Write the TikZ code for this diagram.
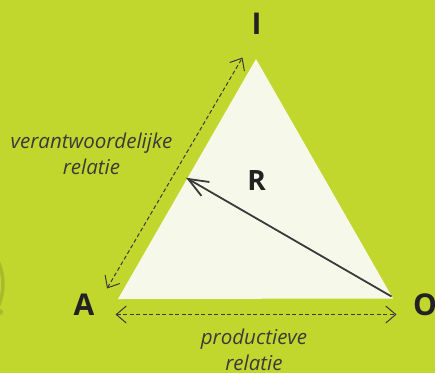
\documentclass[tikz,border=0pt]{standalone}
\usepackage{fontspec}
\setmainfont{Open Sans}
\usetikzlibrary{arrows.meta}
\definecolor{bglime}{HTML}{C2D72E}
\definecolor{trifill}{HTML}{F6F9EA}
\definecolor{inkdark}{HTML}{222222}
\definecolor{inkgray}{HTML}{3A3A3A}
\definecolor{faintgreen}{HTML}{A8BB2A}
\tikzset{
  vertexlabel/.style={font=\fontsize{30}{30}\selectfont\bfseries, text=inkdark, inner sep=0pt},
  relabel/.style={font=\fontsize{20.5}{24}\selectfont\itshape, text=inkgray, inner sep=0pt, anchor=base},
  relarrow/.style={draw=inkgray, line width=1pt, dash pattern=on 4pt off 2.5pt,
    {Straight Barb[length=10pt,width=17pt,line width=1pt]}-{Straight Barb[length=10pt,width=17pt,line width=1pt]}},
  rarrow/.style={draw=inkgray, line width=1.8pt, -{Straight Barb[length=20pt,width=16pt,line width=1.8pt]}}
}
\begin{document}
\begin{tikzpicture}[x=1pt,y=-1pt]
\useasboundingbox[fill=bglime] (0,0) rectangle (435,373);
% faint shape at left edge
\coordinate (fc) at (-51,284);
\draw[faintgreen, line width=3.5pt] (fc) ++(-25:54) arc[start angle=-25, end angle=25, radius=54];
\fill[faintgreen] (0,312) circle[radius=3];
% triangle corners
\coordinate (A) at (118,299);
\coordinate (I) at (256,59);
\coordinate (O) at (393,298.5);
\fill[trifill] (A) -- (I) -- (O) -- cycle;
% labels
\node[vertexlabel] (labI) at (256.5,24) {I};
\node[vertexlabel] (labA) at (84,304.5) {A};
\node[vertexlabel] (labO) at (425,304.5) {O};
\node[vertexlabel, font=\fontsize{28}{28}\selectfont\bfseries] (labR) at (256.5,180) {R};
% relation arrows
\coordinate (vA) at (107,288.5);
\coordinate (vI) at (242.5,57.5);
\draw[relarrow] (vA) -- (vI);
\coordinate (pA) at (115.5,314.5);
\coordinate (pO) at (396.5,314.5);
\draw[relarrow] (pA) -- (pO);
\coordinate (rO) at (391.5,296.5);
\coordinate (rE) at (186,177.7);
\draw[rarrow] (rO) -- (rE);
% texts
\node[relabel] (ver1) at (91.5,148.3) {verantwoordelijke};
\node[relabel] (ver2) at (91.5,174) {relatie};
\node[relabel] (pro1) at (254,344) {productieve};
\node[relabel] (pro2) at (254,370) {relatie};
\end{tikzpicture}
\end{document}
